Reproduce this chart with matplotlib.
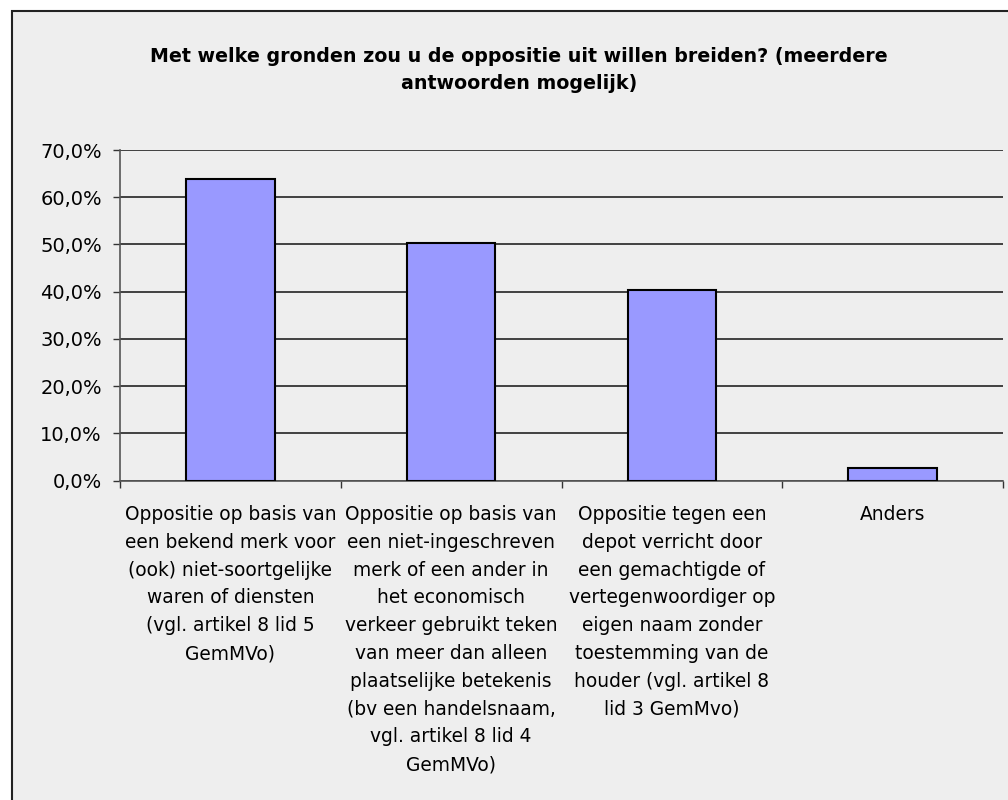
import matplotlib.pyplot as plt
import matplotlib.transforms as mtransforms
from matplotlib.patches import Rectangle
from matplotlib.ticker import FuncFormatter

# Data
categories = [
    'Oppositie op basis van\neen bekend merk voor\n(ook) niet-soortgelijke\nwaren of diensten\n(vgl. artikel 8 lid 5\nGemMVo)',
    'Oppositie op basis van\neen niet-ingeschreven\nmerk of een ander in\nhet economisch\nverkeer gebruikt teken\nvan meer dan alleen\nplaatselijke betekenis\n(bv een handelsnaam,\nvgl. artikel 8 lid 4\nGemMVo)',
    'Oppositie tegen een\ndepot verricht door\neen gemachtigde of\nvertegenwoordiger op\neigen naam zonder\ntoestemming van de\nhouder (vgl. artikel 8\nlid 3 GemMvo)',
    'Anders',
]
values = [63.9, 50.3, 40.4, 2.7]
title = 'Met welke gronden zou u de oppositie uit willen breiden? (meerdere\nantwoorden mogelijk)'

bg = '#eeeeee'
W, H = 1008, 800

fig = plt.figure(figsize=(W / 100, H / 100), dpi=100)
fig.patch.set_facecolor('white')

# chart frame
fig.patches.append(Rectangle((12 / W, -0.01), 1.0, 1 - 11 / H + 0.01,
                             transform=fig.transFigure, facecolor=bg,
                             edgecolor='#222222', linewidth=1.5, zorder=-10))

ax = fig.add_axes([120 / W, 1 - 480.5 / H, (1003 - 120) / W, (480.5 - 150) / H])
ax.set_zorder(5)
ax.set_facecolor(bg)

x = list(range(len(values)))
ax.bar(x, values, width=0.4, color='#9999ff', edgecolor='black', linewidth=1.5, zorder=3)

ax.set_xlim(-0.5, len(values) - 0.5)
ax.set_ylim(0, 70)
ax.set_yticks(range(0, 71, 10))
ax.yaxis.set_major_formatter(FuncFormatter(lambda v, p: f'{v:.1f}%'.replace('.', ',')))
ax.yaxis.grid(True, color='#222222', linewidth=1.2, zorder=0)
ax.set_axisbelow(True)

ax.set_xticks([i - 0.5 for i in range(len(values) + 1)])
ax.set_xticklabels([])
ax.tick_params(axis='x', length=5, width=1, color='#333333', direction='out')
ax.tick_params(axis='y', length=5, width=1, color='#333333', labelsize=14, pad=8)

# category labels, one text per line so the line pitch matches (~27.8 px)
blend = mtransforms.blended_transform_factory(ax.transData, fig.transFigure)
for i, label in enumerate(categories):
    for k, line in enumerate(label.split('\n')):
        ax.text(i, 1 - (520 + 27.8 * k) / H, line, transform=blend, ha='center',
                va='baseline', fontsize=13.4, clip_on=False)

for s in ['top', 'right']:
    ax.spines[s].set_visible(False)
ax.spines['left'].set_color('#555555')
ax.spines['bottom'].set_color('#555555')
ax.spines['left'].set_linewidth(1.2)
ax.spines['bottom'].set_linewidth(1.2)

for k, line in enumerate(title.split('\n')):
    fig.text(519 / W, 1 - (61.7 + 27.6 * k) / H, line, ha='center', va='baseline',
             fontsize=13.7, fontweight='bold')

fig.savefig('out.png', dpi=100, facecolor='white')
